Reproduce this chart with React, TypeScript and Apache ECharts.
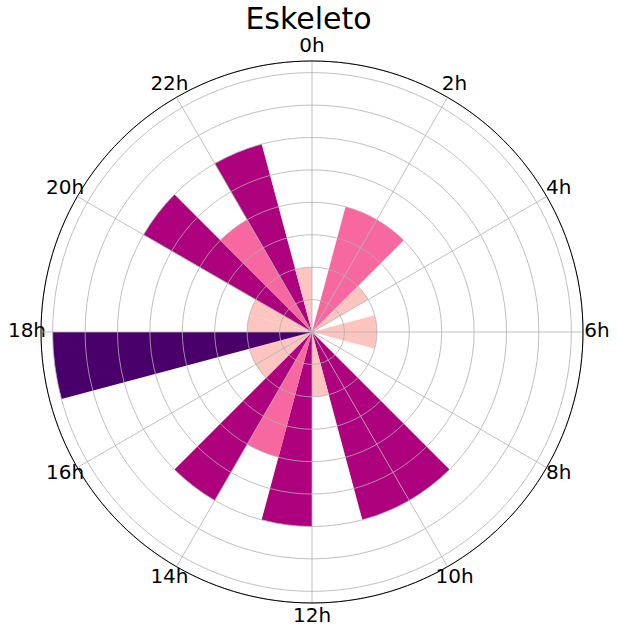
import React, { useEffect, useRef } from "react";
import * as echarts from "echarts";

const TITLE = "Eskeleto";
const hours = [0, 1, 2, 3, 4, 5, 6, 7, 8, 9, 10, 11, 12, 13, 14, 15, 16, 17, 18, 19, 20, 21, 22, 23];
const counts = [0, 2, 2, 1, 0, 1, 1, 0, 0, 3, 3, 1, 3, 2, 3, 1, 1, 4, 1, 1, 3, 2, 3, 1];
const palette = ["#ffffff", "#fcc5c0", "#f768a1", "#ae017e", "#49006a"];
const angleTicks = [0, 2, 4, 6, 8, 10, 12, 14, 16, 18, 20, 22];

const FONT = "DejaVu Sans";
const R = 271;
const MARGIN = -24;
const LABEL_R = 285;
const FS = 20;

function buildRich() {
  const rich: Record<string, any> = {};
  angleTicks.forEach((v) => {
    const th = (v * 15 * Math.PI) / 180;
    const sx = Math.sin(th);
    const sy = -Math.cos(th);
    const ra = R + MARGIN;
    const px = ra * sx;
    const py = ra * sy;
    const alignH = Math.abs(px) / R < 0.3 ? "center" : px > 0 ? "left" : "right";
    const alignV = Math.abs(py) / R < 0.3 ? "middle" : py > 0 ? "top" : "bottom";
    const dx = (LABEL_R - ra) * sx;
    const dy = (LABEL_R - ra) * sy - 2.5;
    const w = (String(v).length * 0.636 + 0.634) * FS;
    const h = FS;
    const pad = [0, 0, 0, 0];
    if (alignH === "left") pad[3] = Math.max(0, dx - w / 2);
    else if (alignH === "right") pad[1] = Math.max(0, -dx - w / 2);
    else if (dx > 0) pad[3] = 2 * dx;
    else pad[1] = -2 * dx;
    if (alignV === "bottom") pad[2] = Math.max(0, -dy - h / 2);
    else if (alignV === "top") pad[0] = Math.max(0, dy - h / 2);
    else if (dy < 0) pad[2] = -2 * dy;
    else pad[0] = 2 * dy;
    rich["t" + v] = {
      fontFamily: FONT,
      fontSize: FS,
      color: "#000",
      padding: pad,
    };
  });
  return rich;
}

export default function App() {
  const ref = useRef<HTMLDivElement>(null);
  useEffect(() => {
    const chart = echarts.init(ref.current!, null, { renderer: "svg" });
    chart.setOption({
      animation: false,
      backgroundColor: "#ffffff",
      title: {
        text: TITLE,
        left: "center",
        top: 3,
        padding: 0,
        textStyle: { fontFamily: FONT, fontSize: 30, fontWeight: "normal", color: "#000" },
      },
      polar: { center: [312, 332], radius: R },
      angleAxis: {
        type: "value",
        min: 0,
        max: 24,
        interval: 2,
        startAngle: 90,
        clockwise: true,
        z: 4,
        axisLine: { show: true, lineStyle: { color: "#000", width: 1 } },
        axisTick: { show: false },
        axisLabel: {
          margin: MARGIN,
          fontFamily: FONT,
          fontSize: FS,
          color: "#000",
          formatter: (v: number) => (angleTicks.includes(v) ? "{t" + v + "|" + v + "h}" : ""),
          rich: buildRich(),
        },
        splitLine: { show: true, lineStyle: { color: "#b0b0b0", width: 0.8 } },
      },
      radiusAxis: {
        type: "value",
        min: 0,
        max: 4.18,
        interval: 0.5,
        z: 3,
        axisLine: { show: false },
        axisTick: { show: false },
        axisLabel: { show: false },
        splitLine: { show: true, lineStyle: { color: "#b0b0b0", width: 0.8 } },
      },
      series: [
        {
          type: "bar",
          coordinateSystem: "polar",
          barWidth: "100%",
          z: 2,
          data: counts.map((v, i) => ({
            value: [v, hours[i] + 0.5],
            itemStyle: { color: palette[v] },
          })),
        },
      ],
    });
    return () => chart.dispose();
  }, []);
  return (
    <div
      ref={ref}
      style={{ position: "fixed", left: 0, top: 0, width: 617, height: 634 }}
    />
  );
}
